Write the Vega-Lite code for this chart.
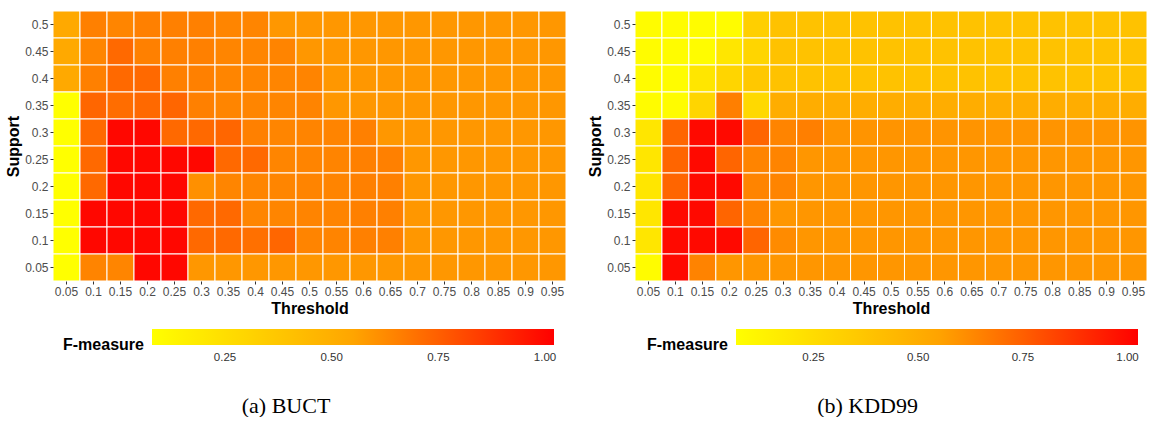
{
"$schema": "https://vega.github.io/schema/vega-lite/v6.json",
"padding": {"left": 5, "top": 10, "right": 0, "bottom": 0},
"background": "white",
"config": {
  "view": {"stroke": null},
  "axis": {"domain": false, "grid": false, "labelFont": "Liberation Sans", "labelFontSize": 12, "labelColor": "#4D4D4D", "tickColor": "#333333", "tickSize": 3, "labelPadding": 2, "titleFont": "Liberation Sans", "titleFontSize": 16, "titleFontWeight": "bold", "titleColor": "black", "titlePadding": 3},
  "legend": {"titleFont": "Liberation Sans", "titleFontSize": 16, "titleFontWeight": "bold", "titleColor": "black", "labelFont": "Liberation Sans", "labelFontSize": 11.5, "labelColor": "#333333", "gradientLength": 402, "gradientThickness": 16, "gradientStrokeWidth": 0}
},
"spacing": 20,
"resolve": {"scale": {"color": "independent"}, "legend": {"color": "independent"}},
"datasets": {
"buct": [
{"t":0.05,"s":0.5,"f":0.53},{"t":0.1,"s":0.5,"f":0.655},{"t":0.15,"s":0.5,"f":0.64},{"t":0.2,"s":0.5,"f":0.655},{"t":0.25,"s":0.5,"f":0.655},{"t":0.3,"s":0.5,"f":0.655},{"t":0.35,"s":0.5,"f":0.64},{"t":0.4,"s":0.5,"f":0.64},{"t":0.45,"s":0.5,"f":0.59},{"t":0.5,"s":0.5,"f":0.59},{"t":0.55,"s":0.5,"f":0.59},{"t":0.6,"s":0.5,"f":0.59},{"t":0.65,"s":0.5,"f":0.59},{"t":0.7,"s":0.5,"f":0.59},{"t":0.75,"s":0.5,"f":0.59},{"t":0.8,"s":0.5,"f":0.59},{"t":0.85,"s":0.5,"f":0.59},{"t":0.9,"s":0.5,"f":0.59},{"t":0.95,"s":0.5,"f":0.59},
{"t":0.05,"s":0.45,"f":0.53},{"t":0.1,"s":0.45,"f":0.64},{"t":0.15,"s":0.45,"f":0.72},{"t":0.2,"s":0.45,"f":0.655},{"t":0.25,"s":0.45,"f":0.655},{"t":0.3,"s":0.45,"f":0.655},{"t":0.35,"s":0.45,"f":0.64},{"t":0.4,"s":0.45,"f":0.64},{"t":0.45,"s":0.45,"f":0.645},{"t":0.5,"s":0.45,"f":0.59},{"t":0.55,"s":0.45,"f":0.59},{"t":0.6,"s":0.45,"f":0.59},{"t":0.65,"s":0.45,"f":0.59},{"t":0.7,"s":0.45,"f":0.59},{"t":0.75,"s":0.45,"f":0.59},{"t":0.8,"s":0.45,"f":0.59},{"t":0.85,"s":0.45,"f":0.59},{"t":0.9,"s":0.45,"f":0.59},{"t":0.95,"s":0.45,"f":0.59},
{"t":0.05,"s":0.4,"f":0.53},{"t":0.1,"s":0.4,"f":0.655},{"t":0.15,"s":0.4,"f":0.72},{"t":0.2,"s":0.4,"f":0.72},{"t":0.25,"s":0.4,"f":0.655},{"t":0.3,"s":0.4,"f":0.655},{"t":0.35,"s":0.4,"f":0.64},{"t":0.4,"s":0.4,"f":0.64},{"t":0.45,"s":0.4,"f":0.64},{"t":0.5,"s":0.4,"f":0.645},{"t":0.55,"s":0.4,"f":0.59},{"t":0.6,"s":0.4,"f":0.59},{"t":0.65,"s":0.4,"f":0.59},{"t":0.7,"s":0.4,"f":0.59},{"t":0.75,"s":0.4,"f":0.59},{"t":0.8,"s":0.4,"f":0.59},{"t":0.85,"s":0.4,"f":0.59},{"t":0.9,"s":0.4,"f":0.59},{"t":0.95,"s":0.4,"f":0.59},
{"t":0.05,"s":0.35,"f":0.08},{"t":0.1,"s":0.35,"f":0.73},{"t":0.15,"s":0.35,"f":0.71},{"t":0.2,"s":0.35,"f":0.72},{"t":0.25,"s":0.35,"f":0.73},{"t":0.3,"s":0.35,"f":0.655},{"t":0.35,"s":0.35,"f":0.64},{"t":0.4,"s":0.35,"f":0.64},{"t":0.45,"s":0.35,"f":0.64},{"t":0.5,"s":0.35,"f":0.645},{"t":0.55,"s":0.35,"f":0.59},{"t":0.6,"s":0.35,"f":0.59},{"t":0.65,"s":0.35,"f":0.59},{"t":0.7,"s":0.35,"f":0.59},{"t":0.75,"s":0.35,"f":0.59},{"t":0.8,"s":0.35,"f":0.59},{"t":0.85,"s":0.35,"f":0.59},{"t":0.9,"s":0.35,"f":0.59},{"t":0.95,"s":0.35,"f":0.59},
{"t":0.05,"s":0.3,"f":0.08},{"t":0.1,"s":0.3,"f":0.72},{"t":0.15,"s":0.3,"f":1},{"t":0.2,"s":0.3,"f":1},{"t":0.25,"s":0.3,"f":0.72},{"t":0.3,"s":0.3,"f":0.72},{"t":0.35,"s":0.3,"f":0.73},{"t":0.4,"s":0.3,"f":0.655},{"t":0.45,"s":0.3,"f":0.64},{"t":0.5,"s":0.3,"f":0.645},{"t":0.55,"s":0.3,"f":0.645},{"t":0.6,"s":0.3,"f":0.655},{"t":0.65,"s":0.3,"f":0.59},{"t":0.7,"s":0.3,"f":0.59},{"t":0.75,"s":0.3,"f":0.59},{"t":0.8,"s":0.3,"f":0.59},{"t":0.85,"s":0.3,"f":0.59},{"t":0.9,"s":0.3,"f":0.59},{"t":0.95,"s":0.3,"f":0.59},
{"t":0.05,"s":0.25,"f":0.08},{"t":0.1,"s":0.25,"f":0.72},{"t":0.15,"s":0.25,"f":1},{"t":0.2,"s":0.25,"f":1},{"t":0.25,"s":0.25,"f":1},{"t":0.3,"s":0.25,"f":1},{"t":0.35,"s":0.25,"f":0.72},{"t":0.4,"s":0.25,"f":0.72},{"t":0.45,"s":0.25,"f":0.64},{"t":0.5,"s":0.25,"f":0.645},{"t":0.55,"s":0.25,"f":0.645},{"t":0.6,"s":0.25,"f":0.655},{"t":0.65,"s":0.25,"f":0.655},{"t":0.7,"s":0.25,"f":0.59},{"t":0.75,"s":0.25,"f":0.59},{"t":0.8,"s":0.25,"f":0.59},{"t":0.85,"s":0.25,"f":0.59},{"t":0.9,"s":0.25,"f":0.59},{"t":0.95,"s":0.25,"f":0.59},
{"t":0.05,"s":0.2,"f":0.08},{"t":0.1,"s":0.2,"f":0.72},{"t":0.15,"s":0.2,"f":1},{"t":0.2,"s":0.2,"f":1},{"t":0.25,"s":0.2,"f":1},{"t":0.3,"s":0.2,"f":0.61},{"t":0.35,"s":0.2,"f":0.64},{"t":0.4,"s":0.2,"f":0.64},{"t":0.45,"s":0.2,"f":0.64},{"t":0.5,"s":0.2,"f":0.645},{"t":0.55,"s":0.2,"f":0.645},{"t":0.6,"s":0.2,"f":0.655},{"t":0.65,"s":0.2,"f":0.655},{"t":0.7,"s":0.2,"f":0.59},{"t":0.75,"s":0.2,"f":0.59},{"t":0.8,"s":0.2,"f":0.59},{"t":0.85,"s":0.2,"f":0.59},{"t":0.9,"s":0.2,"f":0.59},{"t":0.95,"s":0.2,"f":0.59},
{"t":0.05,"s":0.15,"f":0.08},{"t":0.1,"s":0.15,"f":1},{"t":0.15,"s":0.15,"f":1},{"t":0.2,"s":0.15,"f":1},{"t":0.25,"s":0.15,"f":1},{"t":0.3,"s":0.15,"f":0.72},{"t":0.35,"s":0.15,"f":0.72},{"t":0.4,"s":0.15,"f":0.64},{"t":0.45,"s":0.15,"f":0.64},{"t":0.5,"s":0.15,"f":0.645},{"t":0.55,"s":0.15,"f":0.645},{"t":0.6,"s":0.15,"f":0.655},{"t":0.65,"s":0.15,"f":0.655},{"t":0.7,"s":0.15,"f":0.59},{"t":0.75,"s":0.15,"f":0.59},{"t":0.8,"s":0.15,"f":0.59},{"t":0.85,"s":0.15,"f":0.59},{"t":0.9,"s":0.15,"f":0.59},{"t":0.95,"s":0.15,"f":0.59},
{"t":0.05,"s":0.1,"f":0.08},{"t":0.1,"s":0.1,"f":1},{"t":0.15,"s":0.1,"f":1},{"t":0.2,"s":0.1,"f":1},{"t":0.25,"s":0.1,"f":1},{"t":0.3,"s":0.1,"f":0.72},{"t":0.35,"s":0.1,"f":0.72},{"t":0.4,"s":0.1,"f":0.7},{"t":0.45,"s":0.1,"f":0.73},{"t":0.5,"s":0.1,"f":0.645},{"t":0.55,"s":0.1,"f":0.645},{"t":0.6,"s":0.1,"f":0.655},{"t":0.65,"s":0.1,"f":0.655},{"t":0.7,"s":0.1,"f":0.59},{"t":0.75,"s":0.1,"f":0.59},{"t":0.8,"s":0.1,"f":0.59},{"t":0.85,"s":0.1,"f":0.59},{"t":0.9,"s":0.1,"f":0.59},{"t":0.95,"s":0.1,"f":0.59},
{"t":0.05,"s":0.05,"f":0.08},{"t":0.1,"s":0.05,"f":0.645},{"t":0.15,"s":0.05,"f":0.64},{"t":0.2,"s":0.05,"f":1},{"t":0.25,"s":0.05,"f":1},{"t":0.3,"s":0.05,"f":0.59},{"t":0.35,"s":0.05,"f":0.59},{"t":0.4,"s":0.05,"f":0.59},{"t":0.45,"s":0.05,"f":0.59},{"t":0.5,"s":0.05,"f":0.59},{"t":0.55,"s":0.05,"f":0.59},{"t":0.6,"s":0.05,"f":0.59},{"t":0.65,"s":0.05,"f":0.59},{"t":0.7,"s":0.05,"f":0.59},{"t":0.75,"s":0.05,"f":0.59},{"t":0.8,"s":0.05,"f":0.59},{"t":0.85,"s":0.05,"f":0.59},{"t":0.9,"s":0.05,"f":0.59},{"t":0.95,"s":0.05,"f":0.59}
],
"kdd": [
{"t":0.05,"s":0.5,"f":0.08},{"t":0.1,"s":0.5,"f":0.08},{"t":0.15,"s":0.5,"f":0.08},{"t":0.2,"s":0.5,"f":0.08},{"t":0.25,"s":0.5,"f":0.32},{"t":0.3,"s":0.5,"f":0.39},{"t":0.35,"s":0.5,"f":0.39},{"t":0.4,"s":0.5,"f":0.39},{"t":0.45,"s":0.5,"f":0.39},{"t":0.5,"s":0.5,"f":0.39},{"t":0.55,"s":0.5,"f":0.39},{"t":0.6,"s":0.5,"f":0.39},{"t":0.65,"s":0.5,"f":0.39},{"t":0.7,"s":0.5,"f":0.39},{"t":0.75,"s":0.5,"f":0.39},{"t":0.8,"s":0.5,"f":0.39},{"t":0.85,"s":0.5,"f":0.39},{"t":0.9,"s":0.5,"f":0.39},{"t":0.95,"s":0.5,"f":0.39},
{"t":0.05,"s":0.45,"f":0.08},{"t":0.1,"s":0.45,"f":0.08},{"t":0.15,"s":0.45,"f":0.08},{"t":0.2,"s":0.45,"f":0.2},{"t":0.25,"s":0.45,"f":0.29},{"t":0.3,"s":0.45,"f":0.39},{"t":0.35,"s":0.45,"f":0.39},{"t":0.4,"s":0.45,"f":0.39},{"t":0.45,"s":0.45,"f":0.39},{"t":0.5,"s":0.45,"f":0.39},{"t":0.55,"s":0.45,"f":0.39},{"t":0.6,"s":0.45,"f":0.39},{"t":0.65,"s":0.45,"f":0.39},{"t":0.7,"s":0.45,"f":0.39},{"t":0.75,"s":0.45,"f":0.39},{"t":0.8,"s":0.45,"f":0.39},{"t":0.85,"s":0.45,"f":0.39},{"t":0.9,"s":0.45,"f":0.39},{"t":0.95,"s":0.45,"f":0.39},
{"t":0.05,"s":0.4,"f":0.08},{"t":0.1,"s":0.4,"f":0.08},{"t":0.15,"s":0.4,"f":0.2},{"t":0.2,"s":0.4,"f":0.29},{"t":0.25,"s":0.4,"f":0.36},{"t":0.3,"s":0.4,"f":0.39},{"t":0.35,"s":0.4,"f":0.39},{"t":0.4,"s":0.4,"f":0.39},{"t":0.45,"s":0.4,"f":0.39},{"t":0.5,"s":0.4,"f":0.39},{"t":0.55,"s":0.4,"f":0.39},{"t":0.6,"s":0.4,"f":0.39},{"t":0.65,"s":0.4,"f":0.39},{"t":0.7,"s":0.4,"f":0.39},{"t":0.75,"s":0.4,"f":0.39},{"t":0.8,"s":0.4,"f":0.39},{"t":0.85,"s":0.4,"f":0.39},{"t":0.9,"s":0.4,"f":0.39},{"t":0.95,"s":0.4,"f":0.39},
{"t":0.05,"s":0.35,"f":0.08},{"t":0.1,"s":0.35,"f":0.08},{"t":0.15,"s":0.35,"f":0.29},{"t":0.2,"s":0.35,"f":0.655},{"t":0.25,"s":0.35,"f":0.27},{"t":0.3,"s":0.35,"f":0.5},{"t":0.35,"s":0.35,"f":0.5},{"t":0.4,"s":0.35,"f":0.5},{"t":0.45,"s":0.35,"f":0.5},{"t":0.5,"s":0.35,"f":0.5},{"t":0.55,"s":0.35,"f":0.5},{"t":0.6,"s":0.35,"f":0.5},{"t":0.65,"s":0.35,"f":0.5},{"t":0.7,"s":0.35,"f":0.5},{"t":0.75,"s":0.35,"f":0.5},{"t":0.8,"s":0.35,"f":0.5},{"t":0.85,"s":0.35,"f":0.5},{"t":0.9,"s":0.35,"f":0.5},{"t":0.95,"s":0.35,"f":0.5},
{"t":0.05,"s":0.3,"f":0.2},{"t":0.1,"s":0.3,"f":0.73},{"t":0.15,"s":0.3,"f":1},{"t":0.2,"s":0.3,"f":1},{"t":0.25,"s":0.3,"f":0.73},{"t":0.3,"s":0.3,"f":0.64},{"t":0.35,"s":0.3,"f":0.655},{"t":0.4,"s":0.3,"f":0.595},{"t":0.45,"s":0.3,"f":0.595},{"t":0.5,"s":0.3,"f":0.595},{"t":0.55,"s":0.3,"f":0.595},{"t":0.6,"s":0.3,"f":0.595},{"t":0.65,"s":0.3,"f":0.595},{"t":0.7,"s":0.3,"f":0.595},{"t":0.75,"s":0.3,"f":0.595},{"t":0.8,"s":0.3,"f":0.595},{"t":0.85,"s":0.3,"f":0.595},{"t":0.9,"s":0.3,"f":0.595},{"t":0.95,"s":0.3,"f":0.595},
{"t":0.05,"s":0.25,"f":0.2},{"t":0.1,"s":0.25,"f":0.73},{"t":0.15,"s":0.25,"f":1},{"t":0.2,"s":0.25,"f":0.73},{"t":0.25,"s":0.25,"f":0.64},{"t":0.3,"s":0.25,"f":0.64},{"t":0.35,"s":0.25,"f":0.59},{"t":0.4,"s":0.25,"f":0.59},{"t":0.45,"s":0.25,"f":0.59},{"t":0.5,"s":0.25,"f":0.59},{"t":0.55,"s":0.25,"f":0.59},{"t":0.6,"s":0.25,"f":0.59},{"t":0.65,"s":0.25,"f":0.59},{"t":0.7,"s":0.25,"f":0.59},{"t":0.75,"s":0.25,"f":0.59},{"t":0.8,"s":0.25,"f":0.59},{"t":0.85,"s":0.25,"f":0.59},{"t":0.9,"s":0.25,"f":0.59},{"t":0.95,"s":0.25,"f":0.59},
{"t":0.05,"s":0.2,"f":0.2},{"t":0.1,"s":0.2,"f":0.73},{"t":0.15,"s":0.2,"f":1},{"t":0.2,"s":0.2,"f":1},{"t":0.25,"s":0.2,"f":0.64},{"t":0.3,"s":0.2,"f":0.64},{"t":0.35,"s":0.2,"f":0.59},{"t":0.4,"s":0.2,"f":0.59},{"t":0.45,"s":0.2,"f":0.59},{"t":0.5,"s":0.2,"f":0.59},{"t":0.55,"s":0.2,"f":0.59},{"t":0.6,"s":0.2,"f":0.59},{"t":0.65,"s":0.2,"f":0.59},{"t":0.7,"s":0.2,"f":0.59},{"t":0.75,"s":0.2,"f":0.59},{"t":0.8,"s":0.2,"f":0.59},{"t":0.85,"s":0.2,"f":0.59},{"t":0.9,"s":0.2,"f":0.59},{"t":0.95,"s":0.2,"f":0.59},
{"t":0.05,"s":0.15,"f":0.2},{"t":0.1,"s":0.15,"f":1},{"t":0.15,"s":0.15,"f":1},{"t":0.2,"s":0.15,"f":0.73},{"t":0.25,"s":0.15,"f":0.64},{"t":0.3,"s":0.15,"f":0.59},{"t":0.35,"s":0.15,"f":0.59},{"t":0.4,"s":0.15,"f":0.59},{"t":0.45,"s":0.15,"f":0.59},{"t":0.5,"s":0.15,"f":0.59},{"t":0.55,"s":0.15,"f":0.59},{"t":0.6,"s":0.15,"f":0.59},{"t":0.65,"s":0.15,"f":0.59},{"t":0.7,"s":0.15,"f":0.59},{"t":0.75,"s":0.15,"f":0.59},{"t":0.8,"s":0.15,"f":0.59},{"t":0.85,"s":0.15,"f":0.59},{"t":0.9,"s":0.15,"f":0.59},{"t":0.95,"s":0.15,"f":0.59},
{"t":0.05,"s":0.1,"f":0.2},{"t":0.1,"s":0.1,"f":1},{"t":0.15,"s":0.1,"f":1},{"t":0.2,"s":0.1,"f":1},{"t":0.25,"s":0.1,"f":0.73},{"t":0.3,"s":0.1,"f":0.62},{"t":0.35,"s":0.1,"f":0.59},{"t":0.4,"s":0.1,"f":0.59},{"t":0.45,"s":0.1,"f":0.59},{"t":0.5,"s":0.1,"f":0.59},{"t":0.55,"s":0.1,"f":0.59},{"t":0.6,"s":0.1,"f":0.59},{"t":0.65,"s":0.1,"f":0.59},{"t":0.7,"s":0.1,"f":0.59},{"t":0.75,"s":0.1,"f":0.59},{"t":0.8,"s":0.1,"f":0.59},{"t":0.85,"s":0.1,"f":0.59},{"t":0.9,"s":0.1,"f":0.59},{"t":0.95,"s":0.1,"f":0.59},
{"t":0.05,"s":0.05,"f":0.08},{"t":0.1,"s":0.05,"f":1},{"t":0.15,"s":0.05,"f":0.645},{"t":0.2,"s":0.05,"f":0.59},{"t":0.25,"s":0.05,"f":0.59},{"t":0.3,"s":0.05,"f":0.59},{"t":0.35,"s":0.05,"f":0.59},{"t":0.4,"s":0.05,"f":0.59},{"t":0.45,"s":0.05,"f":0.59},{"t":0.5,"s":0.05,"f":0.59},{"t":0.55,"s":0.05,"f":0.59},{"t":0.6,"s":0.05,"f":0.59},{"t":0.65,"s":0.05,"f":0.59},{"t":0.7,"s":0.05,"f":0.59},{"t":0.75,"s":0.05,"f":0.59},{"t":0.8,"s":0.05,"f":0.59},{"t":0.85,"s":0.05,"f":0.59},{"t":0.9,"s":0.05,"f":0.59},{"t":0.95,"s":0.05,"f":0.59}
]
},
"hconcat": [
{
  "width": 513, "height": 270,
  "data": {"name": "buct"},
  "title": {"text": "(a) BUCT", "orient": "bottom", "anchor": "middle", "frame": "bounds", "font": "Liberation Serif", "fontSize": 22, "fontWeight": "normal", "color": "black", "offset": 32},
  "mark": {"type": "rect", "stroke": "white", "strokeWidth": 1},
  "encoding": {
    "x": {"field": "t", "type": "ordinal", "title": "Threshold", "scale": {"paddingInner": 0, "paddingOuter": 0}, "axis": {"labelAngle": 0}},
    "y": {"field": "s", "type": "ordinal", "title": "Support", "sort": "descending", "scale": {"paddingInner": 0, "paddingOuter": 0}},
    "color": {"field": "f", "type": "quantitative", "title": "F-measure",
      "scale": {"domain": [0.079, 0.55, 1.021], "range": ["#FFFF00", "#FFA500", "#FF0000"], "interpolate": "rgb"},
      "legend": {"orient": "none", "legendX": 10, "legendY": 318, "direction": "horizontal", "titleOrient": "left", "titleAnchor": "middle", "titleBaseline": "top", "titlePadding": 8, "values": [0.25, 0.5, 0.75, 1], "format": ".2f", "labelOffset": 7}}
  }
},
{
  "width": 512, "height": 270,
  "data": {"name": "kdd"},
  "title": {"text": "(b) KDD99", "orient": "bottom", "anchor": "middle", "frame": "bounds", "font": "Liberation Serif", "fontSize": 22, "fontWeight": "normal", "color": "black", "offset": 32},
  "mark": {"type": "rect", "stroke": "white", "strokeWidth": 1},
  "encoding": {
    "x": {"field": "t", "type": "ordinal", "title": "Threshold", "scale": {"paddingInner": 0, "paddingOuter": 0}, "axis": {"labelAngle": 0}},
    "y": {"field": "s", "type": "ordinal", "title": "Support", "sort": "descending", "scale": {"paddingInner": 0, "paddingOuter": 0}},
    "color": {"field": "f", "type": "quantitative", "title": "F-measure",
      "scale": {"domain": [0.065, 0.545, 1.025], "range": ["#FFFF00", "#FFA500", "#FF0000"], "interpolate": "rgb"},
      "legend": {"orient": "none", "legendX": 12, "legendY": 318, "direction": "horizontal", "titleOrient": "left", "titleAnchor": "middle", "titleBaseline": "top", "titlePadding": 8, "values": [0.25, 0.5, 0.75, 1], "format": ".2f", "labelOffset": 7}}
  }
}
]
}
